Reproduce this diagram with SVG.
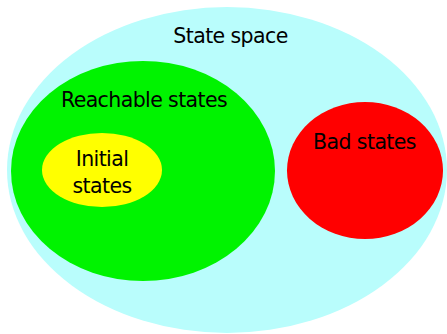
<svg xmlns="http://www.w3.org/2000/svg" width="447" height="334" viewBox="0 0 447 334">
<style>
text{font-family:"DejaVu Sans","Verdana",sans-serif;font-size:20.5px;letter-spacing:-0.6px;fill:#000;text-anchor:middle}
</style>
<rect width="447" height="334" fill="#fff"/>
<g id="state-space"><ellipse cx="227" cy="170" rx="220" ry="163" fill="#b9fdfc"/><text x="230.5" y="43">State space</text></g>
<g id="reachable"><ellipse cx="143" cy="171" rx="132" ry="110" fill="#00f300"/><text x="144" y="107">Reachable states</text></g>
<g id="initial"><ellipse cx="102" cy="170" rx="60" ry="37" fill="#ffff00"/><text x="102" y="166">Initial</text><text x="102" y="193">states</text></g>
<g id="bad"><ellipse cx="365" cy="170.5" rx="78" ry="68.5" fill="#ff0000"/><text x="364.5" y="149">Bad states</text></g>
<g id="connectors"/>
</svg>
